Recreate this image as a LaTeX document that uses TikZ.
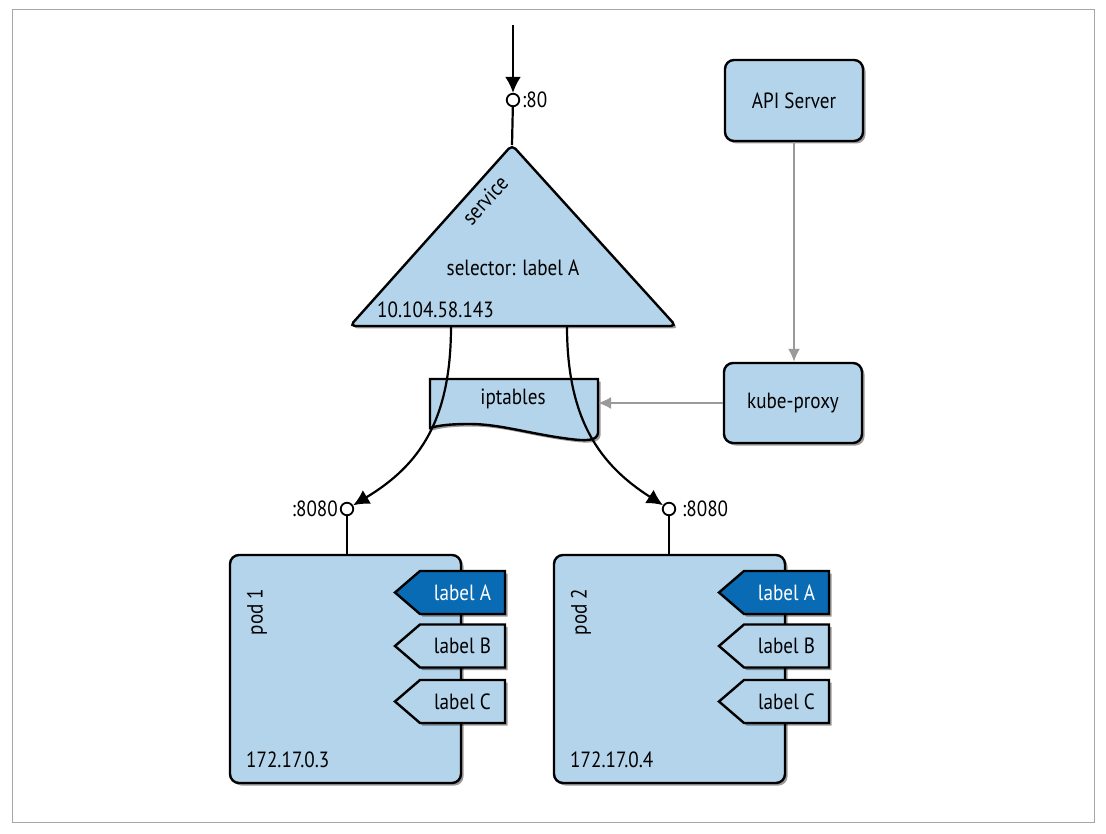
\documentclass[tikz,border=0pt]{standalone}
\usepackage{fontspec}
\setmainfont[FakeStretch=0.87]{PT Sans}
\usetikzlibrary{shadows,arrows.meta}
\definecolor{kblue}{HTML}{B3D4EA}
\definecolor{kdark}{HTML}{0A6BB5}
\definecolor{kgray}{HTML}{9A9A9A}
\begin{document}
\begin{tikzpicture}[x=1pt,y=-1pt,
 shad/.style={drop shadow={shadow xshift=2.5pt,shadow yshift=-2.5pt,opacity=.4,fill=black}},
 box/.style={draw,line width=2.4pt,fill=kblue,rounded corners=9pt,shad,font=\fontsize{22}{26}\selectfont},
 txt/.style={font=\fontsize{22}{26}\selectfont,inner sep=0pt},
 port/.style={circle,draw,line width=1.8pt,fill=white,minimum size=12.5pt,inner sep=0pt},
 wire/.style={line width=2.2pt},
 garrow/.style={draw=kgray,line width=2pt,-{Latex[length=13pt,width=12pt]}},
 barrow/.style={wire,-{Latex[length=16pt,width=16pt]}},
 tagshape/.style={draw,line width=2.4pt,fill=kblue,shad},
 pics/ptag/.style={code={\path[tagshape,fill=#1] (42.5,-21.5) -- (42.5,21.5) -- (-42.5,21.5) -- (-67.5,0) -- (-42.5,-21.5) -- cycle;}},
]
\useasboundingbox (0,0) rectangle (1106,834);
\fill[white] (0,0) rectangle (1106,834);
\draw[gray!70,line width=1pt] (12,10) rectangle (1094,822);

% right column
\node[box,minimum width=138pt,minimum height=81pt] (api) at (794,100.5) {API Server};
\node[box,minimum width=138pt,minimum height=80pt] (kp) at (793,403) {kube-proxy};

% pods
\node[box,minimum width=231pt,minimum height=228pt] (pod1) at (345.5,669) {};
\node[box,minimum width=231pt,minimum height=228pt] (pod2) at (669.5,669) {};
\node[txt,rotate=90] (pn1) at (257,612) {pod 1};
\node[txt,rotate=90] (pn2) at (581,612) {pod 2};
\node[txt,anchor=west] (ip1) at (246,760) {172.17.0.3};
\node[txt,anchor=west] (ip2) at (570,760) {172.17.0.4};

% tags pod 1
\pic at (462.5,592.5) {ptag=kdark};
\node[txt,text=white] (a1) at (462.5,592.5) {label A};
\pic at (462.5,646) {ptag=kblue};
\node[txt] (b1) at (462.5,646) {label B};
\pic at (462.5,701.5) {ptag=kblue};
\node[txt] (c1) at (462.5,701.5) {label C};
% tags pod 2
\pic at (786.5,592.5) {ptag=kdark};
\node[txt,text=white] (a2) at (786.5,592.5) {label A};
\pic at (786.5,646) {ptag=kblue};
\node[txt] (b2) at (786.5,646) {label B};
\pic at (786.5,701.5) {ptag=kblue};
\node[txt] (c2) at (786.5,701.5) {label C};

% ports
\node[port] (p1) at (347,509) {};
\node[port] (p2) at (669,509) {};
\node[port] (c80) at (513,100) {};
\node[txt,anchor=east] (l1) at (338,509) {:8080};
\node[txt,anchor=west] (l2) at (682,509) {:8080};
\node[txt,anchor=west] (l80) at (522,100) {:80};
\draw[wire] (p1) -- (p1 |- pod1.north);
\draw[wire] (p2) -- (p2 |- pod2.north);

% iptables
\path[tagshape] (430,379) -- (598,379) -- (598,433)
  .. controls (597,441) and (586,441) .. (570,439)
  .. controls (530,434) and (500,424) .. (470,424)
  .. controls (452,424) and (440,425) .. (430,428) -- cycle;
\node[txt] (ipt) at (513,399) {iptables};
\coordinate (iptR) at (598,403);

% service triangle
\coordinate (apex) at (512,145);
\path[tagshape,rounded corners=5pt] (apex) -- (676,326) -- (350,326) -- cycle;
\node[txt,rotate=48] (svc) at (485,200) {service};
\node[txt] (sel) at (513,268) {selector: label A};
\node[txt,anchor=west] (sip) at (377,310) {10.104.58.143};
\coordinate (sl) at (451,326);
\coordinate (sr) at (567,326);

% connectors
\coordinate (src) at (513,25);
\draw[barrow] (src) -- (c80);
\draw[wire] (c80) -- (apex);
\draw[barrow] (sl) .. controls (451,420) and (420,465) .. (p1);
\draw[barrow] (sr) .. controls (567,420) and (600,465) .. (p2);
\draw[garrow] (api.south) -- (api.south |- kp.north);
\draw[garrow] (kp.west) -- (iptR);
\end{tikzpicture}
\end{document}
